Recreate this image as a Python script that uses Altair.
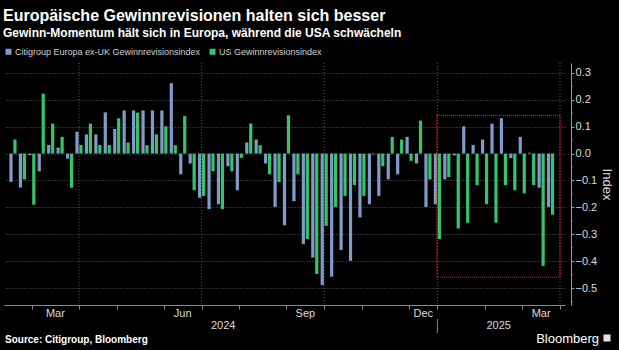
import altair as alt
import pandas as pd

# ---------------- data ----------------
dates = [
    "2024-02-16", "2024-02-23", "2024-03-01", "2024-03-08", "2024-03-15", "2024-03-22", "2024-03-29",
    "2024-04-05", "2024-04-12", "2024-04-19", "2024-04-26", "2024-05-03", "2024-05-10", "2024-05-17",
    "2024-05-24", "2024-05-31", "2024-06-07", "2024-06-14", "2024-06-21", "2024-06-28", "2024-07-05",
    "2024-07-12", "2024-07-19", "2024-07-26", "2024-08-02", "2024-08-09", "2024-08-16", "2024-08-23",
    "2024-08-30", "2024-09-06", "2024-09-13", "2024-09-20", "2024-09-27", "2024-10-04", "2024-10-11",
    "2024-10-18", "2024-10-25", "2024-11-01", "2024-11-08", "2024-11-15", "2024-11-22", "2024-11-29",
    "2024-12-06", "2024-12-13", "2024-12-20", "2025-01-03", "2025-01-10", "2025-01-17", "2025-01-24",
    "2025-01-31", "2025-02-07", "2025-02-14", "2025-02-21", "2025-02-28", "2025-03-07", "2025-03-14",
    "2025-03-21", "2025-03-28",
]
europe = [
    -0.105, -0.126, -0.006, -0.066, 0.032, 0.022, -0.019, 0.081, 0.071, 0.071,
    0.153, 0.091, 0.160, 0.160, 0.160, 0.160, 0.160, 0.261, -0.077, -0.037,
    -0.164, -0.206, -0.188, -0.047, -0.136, 0.041, 0.052, -0.037, -0.198, -0.266,
    -0.177, -0.336, -0.386, -0.488, -0.457, -0.358, -0.398, -0.237, -0.188, -0.157,
    -0.096, -0.077, 0.062, -0.037, -0.198, -0.188, -0.096, -0.007, 0.101, 0.032,
    0.052, 0.111, 0.131, -0.017, 0.062, 0.003, -0.127, -0.198,
]
us = [
    0.052, -0.096, -0.190, 0.222, 0.111, 0.062, -0.127, 0.032, 0.111, 0.032,
    0.032, 0.131, 0.041, 0.152, 0.031, 0.071, 0.101, 0.031, 0.139, -0.136,
    -0.157, -0.066, -0.206, -0.066, -0.016, 0.111, 0.031, -0.077, -0.106, 0.142,
    -0.077, -0.317, -0.447, -0.268, -0.198, -0.157, -0.117, -0.157, -0.003, -0.047,
    0.062, 0.052, -0.027, 0.122, -0.096, -0.317, -0.087, -0.278, -0.257, -0.117,
    -0.188, -0.257, -0.117, -0.136, -0.148, -0.117, -0.417, -0.227,
]
series_names = ["Citigroup Europa ex-UK Gewinnrevisionsindex", "US Gewinnrevisionsindex"]
series_colors = ["#7f9bc9", "#34c46d"]
label_months = {3: "Mar", 6: "Jun", 9: "Sep", 12: "Dec"}
quarter_months = [1, 4, 7, 10]
y_major = [-0.5, -0.4, -0.3, -0.2, -0.1, 0.0, 0.1, 0.2, 0.3]
y_minor = [-0.55, -0.45, -0.35, -0.25, -0.15, -0.05, 0.05, 0.15, 0.25]
y_domain = [-0.562, 0.336]
box_start = "2025-01-03"
box_y = [-0.459, 0.142]

title = "Europäische Gewinnrevisionen halten sich besser"
subtitle = "Gewinn-Momentum hält sich in Europa, während die USA schwächeln"
source = "Source: Citigroup, Bloomberg"

# ---------------- derived tables ----------------
W, H = 561, 242
AX_OFF = 6
n = len(dates)
x_domain = [-0.42, n]
dt = pd.to_datetime(pd.Series(dates))
rows = []
for i, (e, u) in enumerate(zip(europe, us)):
    rows.append({"pos": i - 0.21, "value": e, "series": series_names[0]})
    rows.append({"pos": i + 0.21, "value": u, "series": series_names[1]})
bars_df = pd.DataFrame(rows)

ym = dt.dt.year * 100 + dt.dt.month
first_idx = pd.Series(range(n)).groupby(ym.values).min()
month_starts = [int(v) for v in first_idx.values if v > 0] + [n]

lab_rows = []
keys = list(first_idx.index)
for k, key in enumerate(keys):
    m = key % 100
    start = first_idx[key]
    end = first_idx[keys[k + 1]] if k + 1 < len(keys) else n
    if m in label_months:
        lab_rows.append({"pos": (start + end) / 2, "label": label_months[m]})
month_df = pd.DataFrame(lab_rows)

q_pos = [int(first_idx[k]) for k in keys if k % 100 in quarter_months and first_idx[k] > 0] + [n]
grid_df = pd.DataFrame({"pos": q_pos})

years = dt.dt.year
year_rows, year_bounds = [], []
ylist = sorted(years.unique())
for j, yv in enumerate(ylist):
    idxs = [i for i in range(n) if years[i] == yv]
    s = x_domain[0] if j == 0 else idxs[0]
    e = x_domain[1] if j == len(ylist) - 1 else idxs[-1] + 1
    if j > 0:
        year_bounds.append(idxs[0])
    year_rows.append({"pos": (s + e) / 2, "label": str(yv)})
year_df = pd.DataFrame(year_rows)
sep_df = pd.DataFrame({"pos": year_bounds})

box_df = pd.DataFrame({"x": [dates.index(box_start) - 0.05], "x2": [n],
                       "y": [box_y[0]], "y2": [box_y[1]]})
minor_df = pd.DataFrame({"v": y_minor})

# ---------------- chart ----------------
FONT = "Liberation Sans"
xs = alt.Scale(domain=x_domain, nice=False, zero=False)
ys = alt.Scale(domain=y_domain, nice=False, zero=False)

x_axis = alt.Axis(values=month_starts, labels=False, title=None, grid=False,
                  tickSize=4, tickColor="#8a8a8a", domainColor="#8a8a8a")
y_axis = alt.Axis(orient="right", values=y_major, offset=AX_OFF, format=".1f",
                  labelOverlap=False, tickSize=3,
                  grid=True, gridDash=[1, 2], gridColor="#5a5a5a",
                  domainColor="#9a9a9a", tickColor="#9a9a9a",
                  labelColor="#dcdcdc", labelFont=FONT, labelFontSize=11, labelPadding=1,
                  title="Index", titleColor="#dcdcdc", titleFont=FONT, titleFontSize=13,
                  titleFontWeight="normal", titlePadding=3)


def X(field):
    return alt.X(field, scale=xs, axis=x_axis)


def Y(field):
    return alt.Y(field, scale=ys, axis=y_axis)


grid = alt.Chart(grid_df).mark_rule(color="#5a5a5a", strokeDash=[1, 2], strokeWidth=1).encode(
    x=X("pos:Q")
)

bars = alt.Chart(bars_df).mark_bar(size=3.2).encode(
    x=X("pos:Q"),
    y=Y("value:Q"),
    color=alt.Color("series:N",
                    scale=alt.Scale(domain=series_names, range=series_colors),
                    legend=alt.Legend(orient="none", legendX=0, legendY=-16, direction="horizontal",
                                      title=None, symbolType="square", symbolSize=36,
                                      symbolStrokeWidth=0, labelColor="#cfcfcf",
                                      labelFont=FONT, labelFontSize=9, labelLimit=0,
                                      columnPadding=7, labelOffset=2)),
)

minor = alt.Chart(minor_df).mark_tick(color="#9a9a9a", orient="horizontal", size=2, thickness=1).encode(
    y=Y("v:Q"), x=alt.value(W + AX_OFF + 1)
)

box = alt.Chart(box_df).mark_rect(fill=None, stroke="#c8232c", strokeDash=[1, 1], strokeWidth=1.2).encode(
    x=X("x:Q"), x2="x2:Q", y=Y("y:Q"), y2="y2:Q"
)

months = alt.Chart(month_df).mark_text(color="#dcdcdc", font=FONT, fontSize=11, baseline="middle").encode(
    x=X("pos:Q"), y=alt.value(H + 9), text="label:N"
)
yrs = alt.Chart(year_df).mark_text(color="#dcdcdc", font=FONT, fontSize=11, baseline="middle").encode(
    x=X("pos:Q"), y=alt.value(H + 21), text="label:N"
)
sep = alt.Chart(sep_df).mark_rule(color="#8a8a8a").encode(
    x=X("pos:Q"), y=alt.value(H + 14), y2=alt.value(H + 28)
)


def txt(s, x, y, size, weight="bold", color="#ffffff", align="left", font=FONT):
    return alt.Chart(pd.DataFrame({"t": [s]})).mark_text(
        align=align, baseline="alphabetic", font=font, fontSize=size, fontWeight=weight, color=color
    ).encode(text="t:N", x=alt.value(x), y=alt.value(y))


t1 = txt(title, -1, -42, 16)
t2 = txt(subtitle, -1, -26, 12)
t3 = txt(source, 1, H + 38, 10)
t4 = txt("Bloomberg", 595, H + 38, 13, weight="normal", align="right")
logo = alt.Chart(pd.DataFrame({"t": ["Bloomberg"]})).mark_square(
    color="#e0e0e0", size=50, opacity=1
).encode(x=alt.value(603), y=alt.value(H + 33))

chart = alt.layer(grid, bars, minor, box, months, yrs, sep, t1, t2, t3, t4, logo).properties(
    width=W, height=H, background="#000000",
    padding={"left": 4, "top": 63, "right": 54, "bottom": 45},
    autosize=alt.AutoSizeParams(type="none"),
).configure_view(stroke=None)

chart.save("out.html", embed_options={"renderer": "svg", "actions": False})
